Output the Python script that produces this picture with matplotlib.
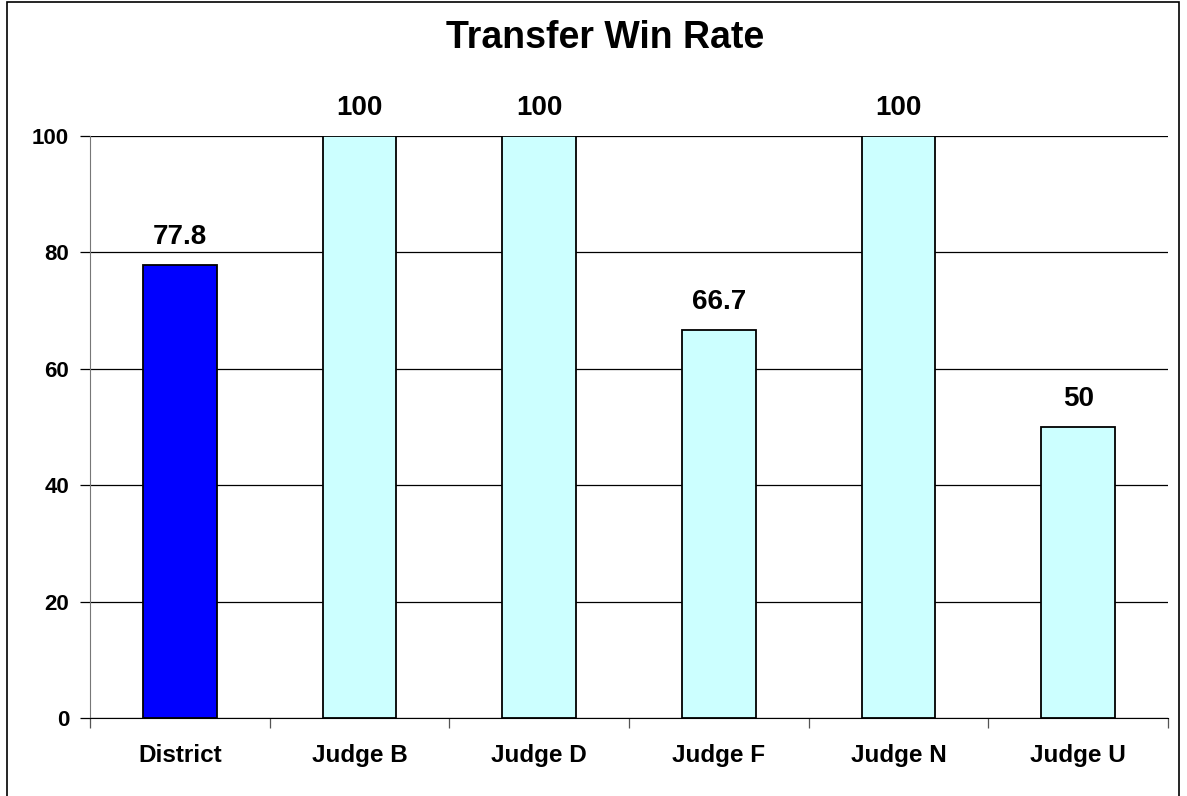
import numpy as np
import matplotlib.pyplot as plt
from matplotlib.patches import Rectangle

categories = ["District", "Judge B", "Judge D", "Judge F", "Judge N", "Judge U"]
win_rate = [77.8, 100, 100, 66.7, 100, 50]
value_labels = ["77.8", "100", "100", "66.7", "100", "50"]
bar_colors = ["#0000FF", "#CCFFFF", "#CCFFFF", "#CCFFFF", "#CCFFFF", "#CCFFFF"]

plt.rcParams['font.family'] = ['Liberation Sans', 'DejaVu Sans']
plt.rcParams['font.weight'] = 'bold'

W, H = 1187, 796
fig = plt.figure(figsize=(W / 100, H / 100), dpi=100)
ax = fig.add_axes([90 / W, (H - 718) / H, (1168 - 90) / W, (718 - 136) / H])

x = np.arange(len(categories))
ax.bar(x, win_rate, width=0.41, color=bar_colors, edgecolor="black", linewidth=1.3, zorder=3)
# value labels above each bar
for xi, v, lab in zip(x, win_rate, value_labels):
    ax.annotate(lab, (xi, v), xytext=(0, 15), textcoords="offset points",
                ha="center", va="baseline", fontsize=20, fontweight="bold")

ax.set_xlim(-0.5, len(categories) - 0.5)
ax.set_ylim(0, 100)
ax.set_yticks(np.arange(0, 101, 20))
ax.yaxis.grid(True, color="black", linewidth=0.9, zorder=0)
ax.set_axisbelow(True)

ax.set_xticks(x)
ax.set_xticklabels(categories, fontsize=17.5, fontweight="bold")
ax.set_xticks(np.arange(-0.5, len(categories), 1), minor=True)
ax.tick_params(axis="x", which="major", length=0, pad=18.5)
ax.tick_params(axis="x", which="minor", length=7, width=0.9, color="#555555")
ax.tick_params(axis="y", length=7, width=0.9, labelsize=16, pad=8)
for lab in ax.get_yticklabels():
    lab.set_fontweight("bold")

for side in ["top", "right"]:
    ax.spines[side].set_visible(False)
ax.spines["left"].set_color("#777777")
ax.spines["bottom"].set_color("black")

fig.text(605 / W, 1 - 38 / H, "Transfer Win Rate", ha="center", va="center", fontsize=27, fontweight="bold")

fig.patches.append(Rectangle((7 / W, -0.1), (1179 - 7) / W, 1.1 - 2 / H, transform=fig.transFigure,
                             fill=False, edgecolor="black", linewidth=1.2))

fig.savefig("out.png", dpi=100)
